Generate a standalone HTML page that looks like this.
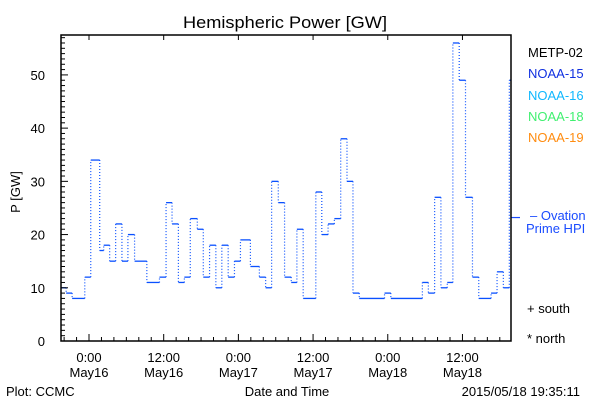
<!DOCTYPE html>
<html><head><meta charset="utf-8"><style>
html,body{margin:0;padding:0;background:#fff;}
svg{display:block;font-family:"Liberation Sans",sans-serif;}
</style></head><body>
<svg id="chart" width="600" height="400" viewBox="0 0 600 400" xmlns="http://www.w3.org/2000/svg">
<rect width="600" height="400" fill="#fff"/>
<text x="285" y="28" font-size="17" text-anchor="middle" fill="#000" textLength="204" lengthAdjust="spacingAndGlyphs">Hemispheric Power [GW]</text>
<text transform="translate(20,192) rotate(-90)" font-size="13" text-anchor="middle" fill="#000">P [GW]</text>
<text x="287" y="396" font-size="13" text-anchor="middle" fill="#000">Date and Time</text>
<text x="6" y="396" font-size="13" fill="#000">Plot: CCMC</text>
<text x="580" y="396" font-size="13" text-anchor="end" fill="#000">2015/05/18 19:35:11</text>
<g font-size="13">
<text x="528" y="57" fill="#000">METP-02</text>
<text x="528" y="78" fill="#1030e0">NOAA-15</text>
<text x="528" y="100" fill="#10b8ff">NOAA-16</text>
<text x="528" y="121" fill="#40f070">NOAA-18</text>
<text x="528" y="142" fill="#ff8c10">NOAA-19</text>
<text x="530" y="220" fill="#1a4cff">– Ovation</text>
<text x="526" y="233" fill="#1a4cff">Prime HPI</text>
<text x="527" y="313" fill="#000">+ south</text>
<text x="527" y="343" fill="#000">* north</text>
</g>
<g id="plot"></g>
</svg>
<script>
// hours from May16 00:00 for each step start, and value in GW
const stepStarts = [-4.52,-3.67,-2.71,-0.68,0.28,1.72,2.36,3.32,4.28,5.29,6.25,7.32,9.29,11.32,12.38,13.34,14.36,15.32,16.27,17.4,18.36,19.37,20.38,21.34,22.36,23.37,24.33,25.93,27.37,28.38,29.34,30.41,31.42,32.49,33.4,34.41,36.44,37.4,38.41,39.42,40.44,41.45,42.41,43.42,47.48,48.49,53.56,54.52,55.53,56.54,57.56,58.46,59.48,60.49,61.61,62.62,64.6,65.56,66.57,67.53];
const stepValues = [10,9,8,12,34,17,18,15,22,15,20,15,11,12,26,22,11,12,23,21,12,18,10,18,12,15,19,14,12,10,30,26,12,11,21,8,28,20,22,23,38,30,9,8,9,8,11,9,27,10,11,56,49,27,12,8,9,13,10,49];
const ovationValue = [23.2];
const xTickLabels = ["0:00","12:00","0:00","12:00","0:00","12:00"];
const xTickDays = ["May16","May16","May17","May17","May18","May18"];
const xTickHours = [0,12,24,36,48,60];
const yTickValues = [0,10,20,30,40,50];

const L=61,R=511,T=35,B=341;
const H0=-4.5,H1=67.8,V0=0,V1=57.5;
const xs=h=>L+(h-H0)/(H1-H0)*(R-L);
const ys=v=>B-(v-V0)/(V1-V0)*(B-T);
const NS="http://www.w3.org/2000/svg";
const g=document.getElementById('plot');
function mk(t,a){const e=document.createElementNS(NS,t);for(const k in a)e.setAttribute(k,a[k]);g.appendChild(e);return e;}

for(let i=0;i<stepStarts.length;i++){
  const x1=Math.max(xs(stepStarts[i]),L), x2=i+1<stepStarts.length?xs(stepStarts[i+1]):R;
  const y=ys(stepValues[i]);
  const h=mk('line',{x1:x1,x2:x2,y1:y,y2:y,stroke:'#0a50ff','stroke-width':1.3});
  
  
  if(i+1<stepStarts.length){
    const v=mk('line',{x1:x2,x2:x2,y1:y,y2:ys(stepValues[i+1]),stroke:'#0a50ff','stroke-width':1.2,'stroke-dasharray':'1,2'});
    
    
  }
}
const ov=mk('line',{x1:R,x2:R+9,y1:ys(ovationValue[0]),y2:ys(ovationValue[0]),stroke:'#1a4cff','stroke-width':1.2});



const fr=mk('rect',{x:L,y:T,width:R-L,height:B-T,fill:'none',stroke:'#000','stroke-width':1.5});



for(let v=0;v<=57;v++){
  const major=v%10===0, y=ys(v);
  const t=mk('line',{x1:L,x2:L+(major?7:4),y1:y,y2:y,stroke:'#000','stroke-width':1});
  
  
}
yTickValues.forEach(v=>{
  const t=mk('text',{x:L-16,y:ys(v)+5,'font-size':13,'text-anchor':'end',fill:'#000'});
  t.textContent=v;
  
  
});
for(let h=-4;h<=H1;h+=2){
  const major=h%12===0, x=xs(h);
  const t=mk('line',{x1:x,x2:x,y1:B,y2:B-(major?7:4),stroke:'#000','stroke-width':1});
  
  
  if(major){
    const tt=mk('line',{x1:x,x2:x,y1:T,y2:T+5,stroke:'#000','stroke-width':1});
    
    
  }
}
xTickHours.forEach((h,i)=>{
  const a=mk('text',{x:xs(h),y:362,'font-size':13,'text-anchor':'middle',fill:'#000'});
  a.textContent=xTickLabels[i];
  
  
  const b=mk('text',{x:xs(h),y:377,'font-size':13,'text-anchor':'middle',fill:'#000'});
  b.textContent=xTickDays[i];
  
  
});
</script>
</body></html>
